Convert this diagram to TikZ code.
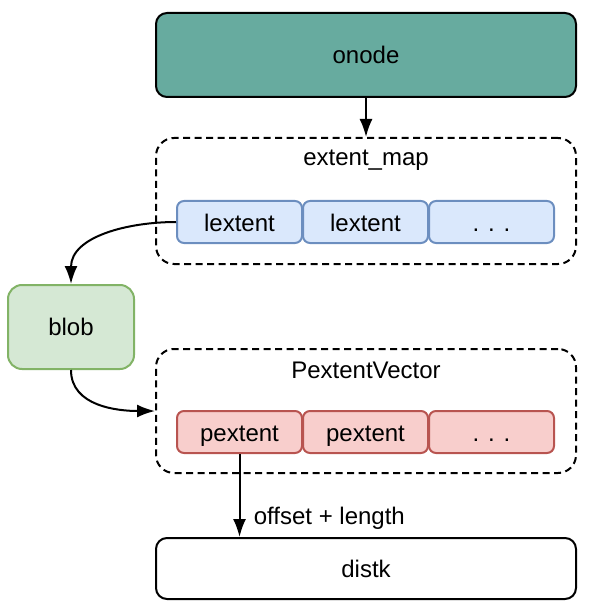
\documentclass[tikz,border=0pt]{standalone}
\usepackage{fontspec}
\setmainfont{Liberation Sans}
\usepackage{tikz}
\usetikzlibrary{arrows.meta}

\definecolor{tealfill}{HTML}{67AB9F}
\definecolor{bluefill}{HTML}{DAE8FC}
\definecolor{blueline}{HTML}{6C8EBF}
\definecolor{greenfill}{HTML}{D5E8D4}
\definecolor{greenline}{HTML}{82B366}
\definecolor{redfill}{HTML}{F8CECC}
\definecolor{redline}{HTML}{B85450}

\tikzset{
  bigbox/.style={draw, line width=2pt, rounded corners=11pt, minimum width=420pt, inner sep=0pt},
  groupbox/.style={draw, dash pattern=on 7pt off 4.5pt, line width=2pt, rounded corners=18pt,
    minimum width=420pt, inner sep=0pt},
  lextentbox/.style={draw=blueline, fill=bluefill, line width=2pt, rounded corners=7pt,
    minimum width=125pt, minimum height=42pt, inner sep=0pt, text height=20pt, text depth=2pt},
  pextentbox/.style={draw=redline, fill=redfill, line width=2pt, rounded corners=7pt,
    minimum width=125pt, minimum height=42pt, inner sep=0pt, text height=20pt, text depth=2pt},
  link/.style={line width=2pt, -{Latex[length=18pt,width=13pt]}},
}

\begin{document}
\begin{tikzpicture}[x=1pt, y=-1pt, font=\fontsize{24}{29}\selectfont]
\useasboundingbox (0,0) rectangle (589,612);
%%%%% Boxes %%%%%
\node[bigbox, fill=tealfill, minimum height=84pt] (onode) at (366,55) {onode};
\node[groupbox, minimum height=126pt] (extmap) at (366,201) {};
\node (extmaplabel) at (366,160) {extent\_map};
\node[lextentbox] (lext1) at (239.5,222) {lextent};
\node[lextentbox] (lext2) at (365.5,222) {lextent};
\node[lextentbox] (lext3) at (491.5,222) {. . .};
\node[draw=greenline, fill=greenfill, line width=2pt, rounded corners=14pt,
  minimum width=126pt, minimum height=84pt, inner sep=0pt] (blob) at (71,327) {blob};
\node[groupbox, minimum height=124pt] (pvec) at (366,411) {};
\node (pveclabel) at (366,370) {PextentVector};
\node[pextentbox] (pext1) at (239.5,432) {pextent};
\node[pextentbox] (pext2) at (365.5,432) {pextent};
\node[pextentbox] (pext3) at (491.5,432) {. . .};
\node[bigbox, minimum height=61pt] (distk) at (366,568.5) {distk};
%%%%% Links %%%%%
\draw[link] (onode.south) -- (extmap.north);
\draw[link] (lext1.west) to[out=180, in=90] (blob.north);
\draw[link] (blob.south) to[out=270, in=180] (pvec.west);
\draw[link] (pext1.south) -- (pext1.south |- distk.north)
  node[pos=0.78, right=10pt] (offsetlabel) {offset + length};
\end{tikzpicture}
\end{document}
